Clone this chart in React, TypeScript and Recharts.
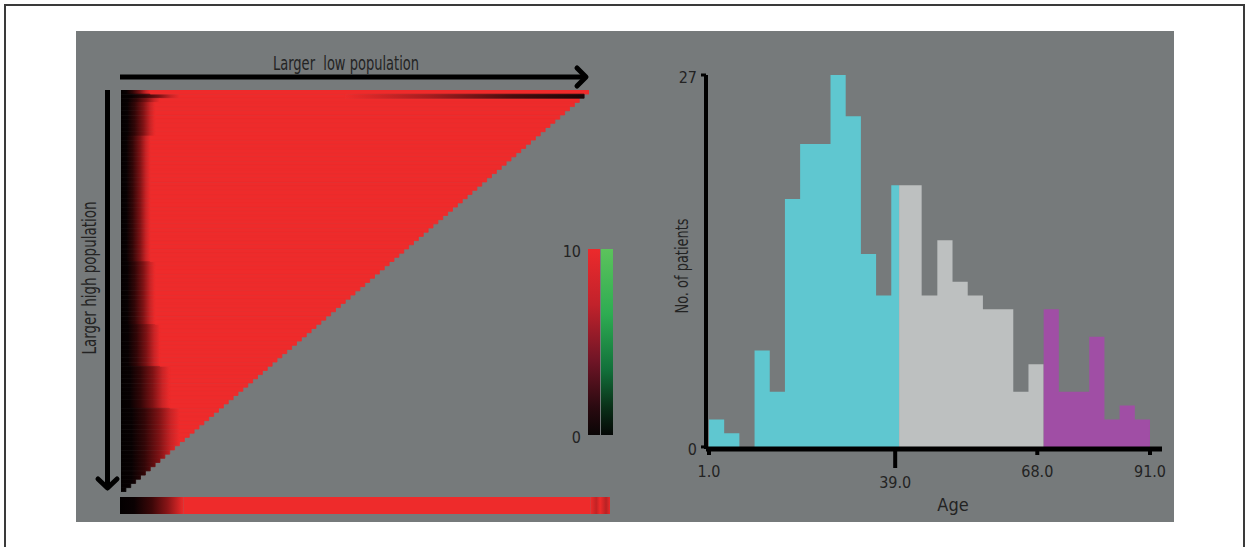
import React from 'react';
import { Area, Bar, BarChart, Cell, ComposedChart, Label, XAxis, YAxis } from 'recharts';

const FONT = "'Liberation Sans Narrow', 'DejaVu Sans Condensed', 'Open Sans', sans-serif";
const INK = '#232323';
const PANEL = '#767a7b';
const RED = '#ee2b2b';
const SEAM = 0.8; // stroke that closes the hairline gaps between stacked rows

// ---- age histogram (29 bins from 1 to 91 years) ----
const binEdges = [
  1.0, 4.1, 7.2, 10.3, 13.4, 16.5, 19.6, 22.7, 25.8, 28.9, 32.0, 35.1, 38.2, 41.3, 44.4,
  47.6, 50.7, 53.8, 56.9, 60.0, 63.1, 66.2, 69.3, 72.4, 75.5, 78.6, 81.7, 84.8, 87.9, 91.0,
];
const binCounts = [2, 1, 0, 7, 4, 18, 22, 22, 27, 24, 14, 11, 19, 19, 11, 15, 12, 11, 10, 10, 4, 6, 10, 4, 4, 8, 2, 3, 2];
const ageTicks = [1, 39, 68, 91];
const countTicks = [0, 27];
const ageGroups = [
  { key: 'young', from: 1, to: 39.8, color: '#5fc7d0' },
  { key: 'middle', from: 39.8, to: 69.3, color: '#bdc0c0' },
  { key: 'old', from: 69.3, to: 91, color: '#a04ea5' },
];

// ---- threshold heatmap: cells per row (top row = widest) ----
const rowCells = [
  96, 95, 94, 93, 92, 91, 90, 89, 88, 87, 86, 85, 84, 83, 82, 81,
  80, 79, 78, 77, 76, 75, 74, 73, 72, 71, 70, 69, 68, 67, 66, 65,
  64, 63, 62, 61, 60, 59, 58, 57, 56, 55, 54, 53, 52, 51, 50, 49,
  48, 47, 46, 45, 44, 43, 42, 41, 40, 39, 38, 37, 36, 35, 34, 33,
  32, 31, 30, 29, 28, 27, 26, 25, 24, 23, 22, 21, 20, 19, 18, 17,
  16, 15, 14, 13, 12, 11, 10, 9, 8, 7, 6, 5, 4, 3, 2, 1,
];
// low-scoring cells on the left of each row
const headCells = [
  6, 12, 8, 7, 7, 7, 7, 7, 7, 7, 7, 6, 6, 6, 6, 6,
  6, 6, 6, 6, 6, 6, 6, 6, 6, 6, 6, 6, 6, 6, 6, 6,
  6, 6, 6, 6, 6, 6, 6, 6, 6, 7, 7, 7, 7, 7, 7, 7,
  7, 7, 7, 7, 7, 7, 7, 7, 8, 8, 8, 8, 8, 8, 8, 8,
  8, 8, 10, 10, 10, 10, 10, 10, 10, 10, 10, 10, 12, 12, 12, 12,
  12, 12, 12, 12, 12, 11, 10, 9, 8, 7, 6, 5, 4, 3, 2, 1,
];
// low-scoring cells at the right end of the first rows
const tailCells = [0, 49];
const marginalRow = [{ row: 'all', head: 13, body: 83, tail: 4 }];
const HEAT_COLS = 96;
const MARGINAL_COLS = 100;

// ---- colour key ----
const scaleTicks = [0, 10];
const scaleRow = [{ name: 'scale', loss: 10, gain: 10 }];

const binIndex = (age: number) => {
  let k = 0;
  while (k < binCounts.length - 1 && binEdges[k + 1] <= age) k++;
  return k;
};

const stepXs = Array.from(new Set([...binEdges, ...ageGroups.map((g) => g.from)])).sort((a, b) => a - b);
const histRows = stepXs.map((x) => {
  const row: Record<string, number | null> = { x };
  ageGroups.forEach((g) => {
    if (x < g.from || x > g.to) row[g.key] = null;
    else row[g.key] = binCounts[binIndex(x < g.to ? x : g.to - 1e-6)];
  });
  return row;
});

const heatRows = rowCells.map((len, i) => {
  const tail = tailCells[i] ?? 0;
  const head = headCells[i];
  return { row: i, head, body: len - head - tail, tail };
});

const textStyle = { fill: INK, fontFamily: FONT };

function AgeTick({ x, y, payload }: any) {
  const dropped = payload.value === 39;
  return (
    <g>
      <line x1={x} x2={x} y1={y} y2={y + (dropped ? 19 : 6)} stroke="#000" strokeWidth={4} />
      <text x={x} y={y + (dropped ? 39 : 28)} textAnchor="middle" fontSize={16} {...textStyle}>
        {Number(payload.value).toFixed(1)}
      </text>
    </g>
  );
}

function CountTick({ x, y, payload }: any) {
  return (
    <text x={x} y={y + 2} dy="0.35em" textAnchor="end" fontSize={16} {...textStyle}>
      {payload.value}
    </text>
  );
}

function Histogram() {
  return (
    <ComposedChart
      width={560}
      height={500}
      data={histRows}
      margin={{ top: 35, right: 38, bottom: 51, left: 16 }}
    >
      <XAxis
        type="number"
        dataKey="x"
        domain={[0.39, 93.45]}
        ticks={ageTicks}
        interval={0}
        height={40}
        tickSize={0}
        tickMargin={0}
        tickLine={false}
        axisLine={{ stroke: '#000', strokeWidth: 5 }}
        tick={<AgeTick />}
      >
        <Label
          content={({ viewBox }: any) => (
            <text x={viewBox.x + viewBox.width / 2 + 19} y={viewBox.y + 62} textAnchor="middle" fontSize={18} {...textStyle}>
              Age
            </text>
          )}
        />
      </XAxis>
      <YAxis
        type="number"
        domain={[-0.15, 27]}
        ticks={countTicks}
        interval={0}
        width={50}
        tickSize={5}
        tickMargin={4}
        tickLine={{ stroke: '#000', strokeWidth: 3 }}
        axisLine={{ stroke: '#000', strokeWidth: 4 }}
        tick={<CountTick />}
      >
        <Label
          content={({ viewBox }: any) => {
            const cx = viewBox.x + 32;
            const cy = viewBox.y + viewBox.height / 2 + 4;
            return (
              <text
                x={cx}
                y={cy}
                transform={`rotate(-90, ${cx}, ${cy})`}
                textAnchor="middle"
                fontSize={18}
                textLength={95}
                lengthAdjust="spacingAndGlyphs"
                {...textStyle}
              >
                No. of patients
              </text>
            );
          }}
        />
      </YAxis>
      {ageGroups.map((g) => (
        <Area
          key={g.key}
          type="stepAfter"
          dataKey={g.key}
          stroke="none"
          fill={g.color}
          fillOpacity={1}
          dot={false}
          activeDot={false}
          connectNulls={false}
          isAnimationActive={false}
        />
      ))}
    </ComposedChart>
  );
}

const headStops: Array<[number, string]> = [
  [0, '#030000'],
  [0.18, '#080102'],
  [0.4, '#320607'],
  [0.65, '#7d1214'],
  [0.85, '#c92325'],
  [1, RED],
];

function Heatmap() {
  const width = 468;
  const fixed = (width / HEAT_COLS) * 12;
  return (
    <BarChart
      layout="vertical"
      width={width}
      height={402}
      data={heatRows}
      margin={{ top: 0, right: 0, bottom: 0, left: 0 }}
      barCategoryGap={0}
      barGap={0}
    >
      <defs>
        <linearGradient id="headFade" x1="0" x2="1" y1="0" y2="0">
          {headStops.map(([o, c]) => <stop key={o} offset={o} stopColor={c} />)}
        </linearGradient>
        <linearGradient id="headFixed" gradientUnits="userSpaceOnUse" x1={0} x2={fixed} y1={0} y2={0}>
          {headStops.map(([o, c]) => <stop key={o} offset={o} stopColor={c} />)}
        </linearGradient>
        <linearGradient id="tailFade" x1="0" x2="1" y1="0" y2="0">
          <stop offset={0} stopColor={RED} />
          <stop offset={0.35} stopColor="#a81c1e" />
          <stop offset={0.7} stopColor="#4a0c0d" />
          <stop offset={1} stopColor="#1a0506" />
        </linearGradient>
      </defs>
      <XAxis type="number" hide domain={[0, HEAT_COLS]} />
      <YAxis type="category" dataKey="row" hide />
      <Bar dataKey="head" stackId="r" isAnimationActive={false}>
        {heatRows.map((r) => {
          const fill = r.body > 0 ? 'url(#headFade)' : 'url(#headFixed)';
          return <Cell key={r.row} fill={fill} stroke={fill} strokeWidth={SEAM} />;
        })}
      </Bar>
      <Bar dataKey="body" stackId="r" fill={RED} stroke={RED} strokeWidth={SEAM} isAnimationActive={false} />
      <Bar dataKey="tail" stackId="r" fill="url(#tailFade)" stroke="url(#tailFade)" strokeWidth={SEAM} isAnimationActive={false} />
    </BarChart>
  );
}

function MarginalStrip() {
  return (
    <BarChart
      layout="vertical"
      width={490}
      height={17}
      data={marginalRow}
      margin={{ top: 0, right: 0, bottom: 0, left: 0 }}
      barCategoryGap={0}
    >
      <defs>
        <linearGradient id="stripHead" x1="0" x2="1" y1="0" y2="0">
          <stop offset={0} stopColor="#030000" />
          <stop offset={0.22} stopColor="#0a0102" />
          <stop offset={0.5} stopColor="#3c0708" />
          <stop offset={0.75} stopColor="#8a1517" />
          <stop offset={1} stopColor={RED} />
        </linearGradient>
        <linearGradient id="stripTail" x1="0" x2="1" y1="0" y2="0">
          <stop offset={0} stopColor={RED} />
          <stop offset={0.3} stopColor="#c22325" />
          <stop offset={0.5} stopColor={RED} />
          <stop offset={0.8} stopColor="#b82224" />
          <stop offset={1} stopColor="#e62a2a" />
        </linearGradient>
      </defs>
      <XAxis type="number" hide domain={[0, MARGINAL_COLS]} />
      <YAxis type="category" dataKey="row" hide />
      <Bar dataKey="head" stackId="m" fill="url(#stripHead)" isAnimationActive={false} />
      <Bar dataKey="body" stackId="m" fill={RED} isAnimationActive={false} />
      <Bar dataKey="tail" stackId="m" fill="url(#stripTail)" isAnimationActive={false} />
    </BarChart>
  );
}

function ColourKey() {
  return (
    <BarChart
      width={65}
      height={220}
      data={scaleRow}
      margin={{ top: 9, right: 0, bottom: 25, left: 0 }}
      barCategoryGap={0}
      barGap={1}
    >
      <defs>
        <linearGradient id="redScale" x1="0" x2="0" y1="0" y2="1">
          <stop offset={0} stopColor="#ec2a2c" />
          <stop offset={0.3} stopColor="#c1222b" />
          <stop offset={0.6} stopColor="#701526" />
          <stop offset={0.85} stopColor="#2a0a10" />
          <stop offset={1} stopColor="#0a0606" />
        </linearGradient>
        <linearGradient id="greenScale" x1="0" x2="0" y1="0" y2="1">
          <stop offset={0} stopColor="#5cc35c" />
          <stop offset={0.35} stopColor="#2eac52" />
          <stop offset={0.65} stopColor="#12703a" />
          <stop offset={0.85} stopColor="#0a3018" />
          <stop offset={1} stopColor="#050806" />
        </linearGradient>
      </defs>
      <XAxis dataKey="name" hide />
      <YAxis
        domain={[0, 10]}
        ticks={scaleTicks}
        interval={0}
        width={40}
        axisLine={false}
        tickLine={false}
        tickSize={0}
        tickMargin={7}
        tick={<CountTick />}
      />
      <Bar dataKey="loss" fill="url(#redScale)" isAnimationActive={false} />
      <Bar dataKey="gain" fill="url(#greenScale)" isAnimationActive={false} />
    </BarChart>
  );
}

function Arrows() {
  return (
    <svg width={1246} height={547} style={{ position: 'absolute', left: 0, top: 0, pointerEvents: 'none' }}>
      <g stroke="#000" strokeWidth={5} fill="none" strokeLinejoin="round" strokeLinecap="round">
        <line x1={120} y1={77} x2={584} y2={77} strokeLinecap="butt" />
        <polyline points="577,68 586,77 577,86" />
        <line x1={107.5} y1={90} x2={107.5} y2={488} strokeLinecap="butt" />
        <polyline points="98,479 107.5,488 117,479" />
      </g>
      <text
        x={346}
        y={70}
        textAnchor="middle"
        fontSize={19}
        textLength={146}
        lengthAdjust="spacingAndGlyphs"
        style={{ whiteSpace: 'pre' }}
        {...textStyle}
      >
        {'Larger  low population'}
      </text>
      <text
        x={96}
        y={278}
        transform="rotate(-90, 96, 278)"
        textAnchor="middle"
        fontSize={19}
        textLength={153}
        lengthAdjust="spacingAndGlyphs"
        {...textStyle}
      >
        Larger high population
      </text>
    </svg>
  );
}

export default function App() {
  return (
    <div style={{ position: 'relative', width: 1246, height: 547, overflow: 'hidden', background: '#fff' }}>
      <style>{'body { margin: 0; }'}</style>
      <div
        style={{
          position: 'absolute',
          left: 4,
          top: 4,
          width: 1241,
          height: 700,
          border: '2px solid #3a3a3a',
          boxSizing: 'border-box',
        }}
      />
      <div style={{ position: 'absolute', left: 76, top: 31, width: 1098, height: 491, background: PANEL }} />
      <div style={{ position: 'absolute', left: 121, top: 90 }}>
        <Heatmap />
      </div>
      <div style={{ position: 'absolute', left: 120, top: 497 }}>
        <MarginalStrip />
      </div>
      <div style={{ position: 'absolute', left: 548, top: 240 }}>
        <ColourKey />
      </div>
      <div style={{ position: 'absolute', left: 640, top: 40 }}>
        <Histogram />
      </div>
      <Arrows />
    </div>
  );
}
